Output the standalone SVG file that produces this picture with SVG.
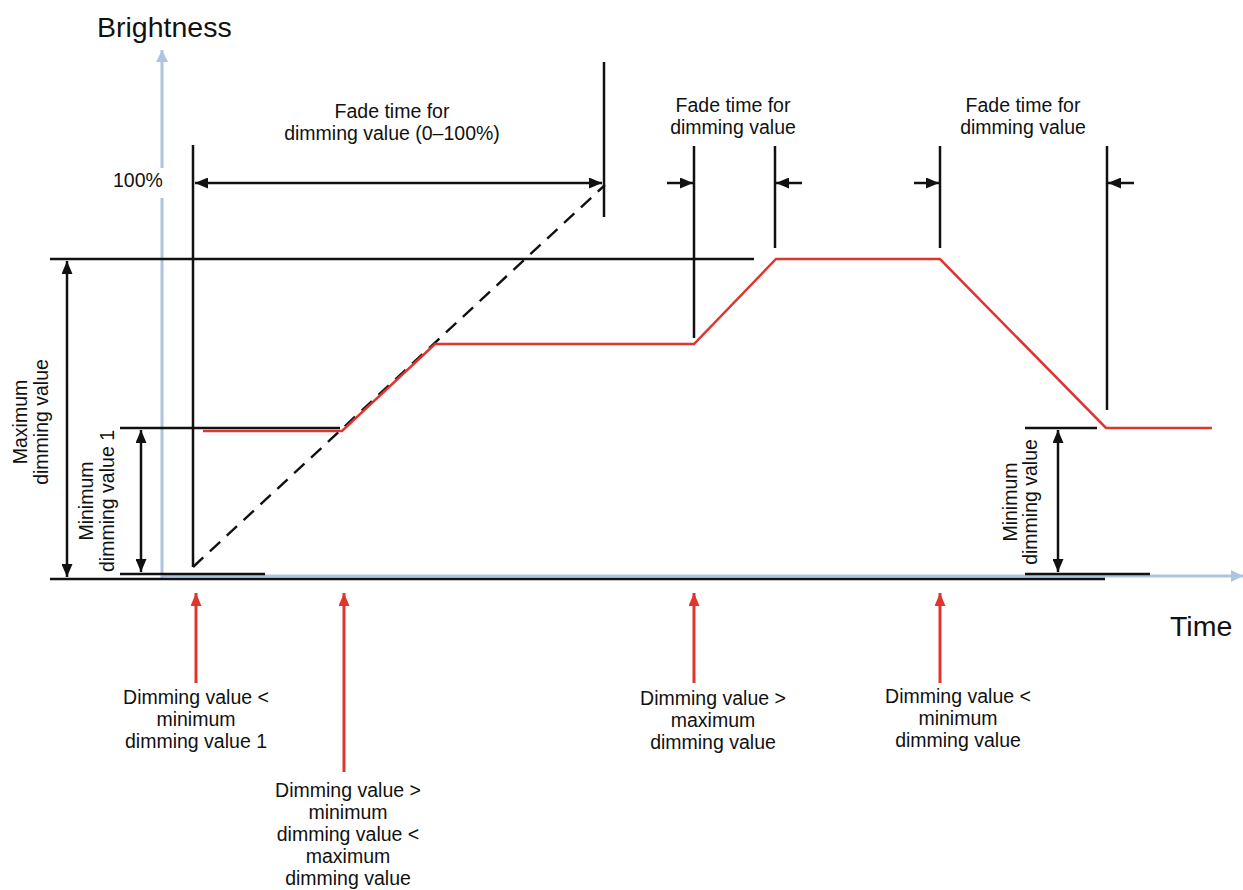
<svg xmlns="http://www.w3.org/2000/svg" width="1243" height="890" viewBox="0 0 1243 890">
  <style>
    .t { font-family: "Liberation Sans", Arial, sans-serif; font-size: 19.5px; fill: #111; }
    .big { font-family: "Liberation Sans", Arial, sans-serif; font-size: 28.5px; fill: #111; }
    .axis { stroke: #aec4e0; stroke-width: 3; fill: none; }
    .ln { stroke: #111; stroke-width: 2.5; fill: none; }
    .dash { stroke: #111; stroke-width: 2.4; fill: none; stroke-dasharray: 14 9; }
    .curve { stroke: #e0352e; stroke-width: 2.5; fill: none; stroke-linejoin: miter; }
    .red { stroke: #e0352e; stroke-width: 3; fill: none; }
  </style>
  <defs>
    <marker id="blk" viewBox="0 0 13 11" refX="13" refY="5.5" markerWidth="13" markerHeight="11" markerUnits="userSpaceOnUse" orient="auto-start-reverse">
      <path d="M0,0 L13,5.5 L0,11 Z" fill="#111"/>
    </marker>
    <marker id="redhead" viewBox="0 0 13 11" refX="13" refY="5.5" markerWidth="13" markerHeight="11" markerUnits="userSpaceOnUse" orient="auto">
      <path d="M0,0 L13,5.5 L0,11 Z" fill="#e0352e"/>
    </marker>
    <marker id="bluehead" viewBox="0 0 12 12" refX="12" refY="6" markerWidth="12" markerHeight="12" markerUnits="userSpaceOnUse" orient="auto">
      <path d="M0,0 L12,6 L0,12 Z" fill="#aec4e0"/>
    </marker>
  </defs>

  <rect width="1243" height="890" fill="#ffffff"/>

  <!-- axes -->
  <g id="axes">
    <line class="axis" x1="162" y1="578" x2="162" y2="50" marker-end="url(#bluehead)"/>
    <line class="axis" x1="162" y1="576" x2="1243" y2="576" marker-end="url(#bluehead)"/>
    <text class="big" x="97" y="37">Brightness</text>
    <text class="big" x="1170" y="636">Time</text>
    <rect x="104" y="168" width="64" height="30" fill="#ffffff"/>
    <text class="t" x="113" y="187">100%</text>
  </g>

  <!-- connectors: reference lines, dimension arrows and event markers -->
  <g id="connectors">
    <!-- base and level lines -->
    <line class="ln" x1="50" y1="579" x2="1105" y2="579"/>
    <line class="ln" x1="120" y1="574" x2="265" y2="574"/>
    <line class="ln" x1="1025" y1="574" x2="1150" y2="574"/>
    <line class="ln" x1="50" y1="259" x2="754" y2="259"/>
    <line class="ln" x1="120" y1="428" x2="340" y2="428"/>
    <line class="ln" x1="1025" y1="428" x2="1097" y2="428"/>

    <!-- vertical dimension arrows -->
    <line class="ln" x1="67" y1="261" x2="67" y2="577" marker-start="url(#blk)" marker-end="url(#blk)"/>
    <line class="ln" x1="141" y1="430" x2="141" y2="572" marker-start="url(#blk)" marker-end="url(#blk)"/>
    <line class="ln" x1="1058" y1="430" x2="1058" y2="572" marker-start="url(#blk)" marker-end="url(#blk)"/>

    <!-- fade time 0-100% -->
    <line class="ln" x1="193" y1="145" x2="193" y2="567"/>
    <line class="ln" x1="604" y1="62" x2="604" y2="217"/>
    <line class="ln" x1="195" y1="183" x2="602" y2="183" marker-start="url(#blk)" marker-end="url(#blk)"/>
    <line class="dash" x1="193" y1="567" x2="605" y2="185"/>

    <!-- fade time up -->
    <line class="ln" x1="694" y1="146" x2="694" y2="338"/>
    <line class="ln" x1="775" y1="146" x2="775" y2="248"/>
    <line class="ln" x1="667" y1="183" x2="693" y2="183" marker-end="url(#blk)"/>
    <line class="ln" x1="802" y1="183" x2="776" y2="183" marker-end="url(#blk)"/>

    <!-- fade time down -->
    <line class="ln" x1="940" y1="146" x2="940" y2="248"/>
    <line class="ln" x1="1107" y1="146" x2="1107" y2="410"/>
    <line class="ln" x1="914" y1="183" x2="939" y2="183" marker-end="url(#blk)"/>
    <line class="ln" x1="1134" y1="183" x2="1108" y2="183" marker-end="url(#blk)"/>

    <!-- brightness curve -->
    <polyline class="curve" points="203,431 342,431 435,344 694,344 776,259 940,259 1106,428 1212,428"/>

    <!-- event markers -->
    <line class="red" x1="196" y1="683" x2="196" y2="593" marker-end="url(#redhead)"/>
    <line class="red" x1="344" y1="772" x2="344" y2="593" marker-end="url(#redhead)"/>
    <line class="red" x1="694" y1="683" x2="694" y2="593" marker-end="url(#redhead)"/>
    <line class="red" x1="940" y1="683" x2="940" y2="593" marker-end="url(#redhead)"/>
  </g>

  <!-- labels -->
  <g id="label-max" class="t" text-anchor="middle">
    <text transform="translate(27,422) rotate(-90)">Maximum</text>
    <text transform="translate(48,422) rotate(-90)">dimming value</text>
  </g>
  <g id="label-min1" class="t" text-anchor="middle">
    <text transform="translate(93,501) rotate(-90)">Minimum</text>
    <text transform="translate(114,501) rotate(-90)">dimming value 1</text>
  </g>
  <g id="label-min" class="t" text-anchor="middle">
    <text transform="translate(1017,502) rotate(-90)">Minimum</text>
    <text transform="translate(1037,502) rotate(-90)">dimming value</text>
  </g>
  <g id="label-fade-full" class="t" text-anchor="middle">
    <text x="392" y="118">Fade time for</text>
    <text x="392" y="140">dimming value (0–100%)</text>
  </g>
  <g id="label-fade-up" class="t" text-anchor="middle">
    <text x="733" y="112">Fade time for</text>
    <text x="733" y="134">dimming value</text>
  </g>
  <g id="label-fade-down" class="t" text-anchor="middle">
    <text x="1023" y="112">Fade time for</text>
    <text x="1023" y="134">dimming value</text>
  </g>
  <g id="event-below-min1" class="t" text-anchor="middle">
    <text x="196" y="704">Dimming value &lt;</text>
    <text x="196" y="726">minimum</text>
    <text x="196" y="748">dimming value 1</text>
  </g>
  <g id="event-between" class="t" text-anchor="middle">
    <text x="348" y="797">Dimming value &gt;</text>
    <text x="348" y="819">minimum</text>
    <text x="348" y="841">dimming value &lt;</text>
    <text x="348" y="863">maximum</text>
    <text x="348" y="885">dimming value</text>
  </g>
  <g id="event-above-max" class="t" text-anchor="middle">
    <text x="713" y="705">Dimming value &gt;</text>
    <text x="713" y="727">maximum</text>
    <text x="713" y="749">dimming value</text>
  </g>
  <g id="event-below-min" class="t" text-anchor="middle">
    <text x="958" y="703">Dimming value &lt;</text>
    <text x="958" y="725">minimum</text>
    <text x="958" y="747">dimming value</text>
  </g>
</svg>
